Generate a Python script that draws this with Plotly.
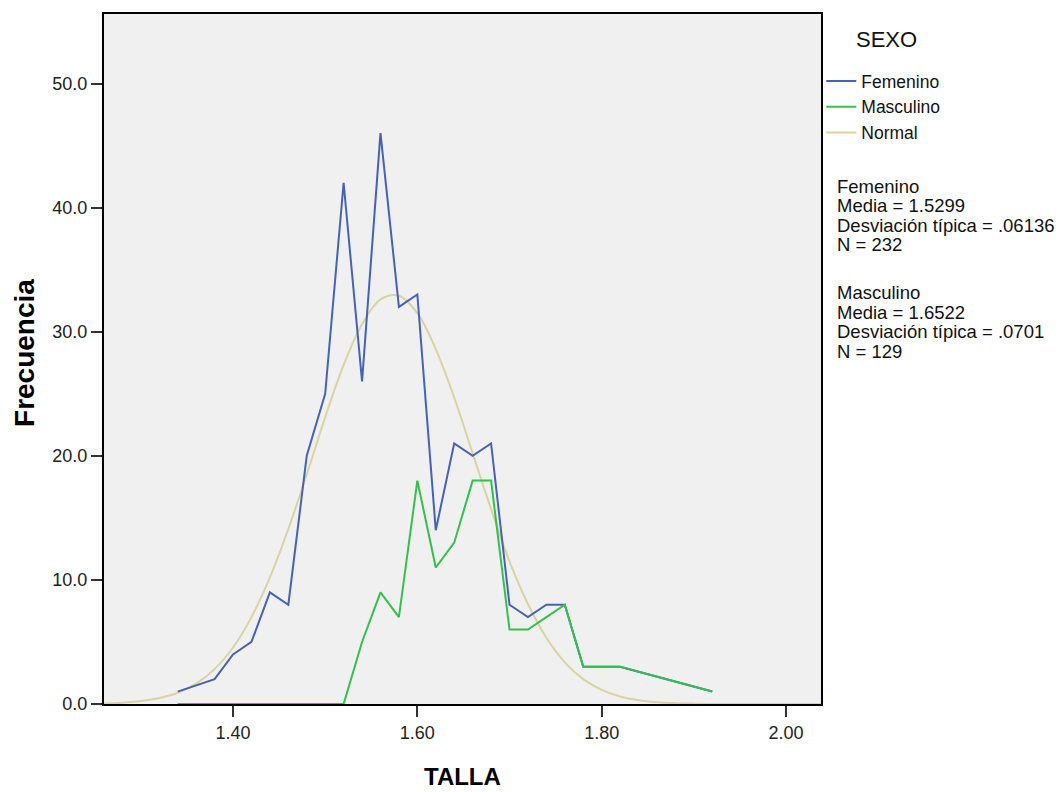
import plotly.graph_objects as go

# ---- data ----
fem_x = [1.34, 1.38, 1.40, 1.42, 1.44, 1.46, 1.48, 1.50, 1.52, 1.54, 1.56, 1.58, 1.60,
         1.62, 1.64, 1.66, 1.68, 1.70, 1.72, 1.74, 1.76, 1.78, 1.82, 1.92]
fem_y = [1, 2, 4, 5, 9, 8, 20, 25, 42, 26, 46, 32, 33,
         14, 21, 20, 21, 8, 7, 8, 8, 3, 3, 1]

mas_x = [1.34, 1.52, 1.54, 1.56, 1.58, 1.60, 1.62, 1.64, 1.66, 1.68, 1.70, 1.72, 1.74,
         1.76, 1.78, 1.82, 1.92]
mas_y = [0, 0, 5, 9, 7, 18, 11, 13, 18, 18, 6, 6, 7,
         8, 3, 3, 1]

norm_x = [1.26, 1.28, 1.30, 1.32, 1.34, 1.36, 1.38, 1.40, 1.42, 1.44, 1.46, 1.48, 1.50,
          1.52, 1.54, 1.56, 1.58, 1.60, 1.62, 1.64, 1.66, 1.68, 1.70, 1.72, 1.74, 1.76,
          1.78, 1.80, 1.82, 1.84, 1.86, 1.88, 1.90, 1.92, 1.96, 2.00, 2.04]
norm_y = [0.05, 0.11, 0.24, 0.48, 0.91, 1.64, 2.81, 4.55, 7.0, 10.2, 14.1, 18.5, 23.1,
          27.3, 30.6, 32.6, 32.9, 31.5, 28.6, 24.7, 20.2, 15.7, 11.5, 8.06, 5.34, 3.36,
          2.0, 1.14, 0.61, 0.31, 0.15, 0.07, 0.03, 0.01, 0.0, 0.0, 0.0]

x_ticks = [1.40, 1.60, 1.80, 2.00]
y_ticks = [0, 10, 20, 30, 40, 50]

stats_fem = ["Femenino", "Media = 1.5299", "Desviación típica = .06136", "N = 232"]
stats_mas = ["Masculino", "Media = 1.6522", "Desviación típica = .0701", "N = 129"]

# ---- layout constants ----
W, H = 1062, 792
L, R, T, B = 104, 820.7, 14, 704
FONT = "Liberation Sans, Arial, sans-serif"

C_FEM = "#4462b8"
C_MAS = "#34c04c"
C_NOR = "#d9d3a0"

fig = go.Figure()
fig.add_trace(go.Scatter(x=norm_x, y=norm_y, mode="lines", name="Normal",
                         line=dict(color=C_NOR, width=2, shape="spline"),
                         legendrank=3, hoverinfo="skip"))
fig.add_trace(go.Scatter(x=fem_x, y=fem_y, mode="lines", name="Femenino",
                         line=dict(color=C_FEM, width=2), legendrank=1))
fig.add_trace(go.Scatter(x=mas_x, y=mas_y, mode="lines", name="Masculino",
                         line=dict(color=C_MAS, width=2), legendrank=2))

pw = R - L
ph = B - T


def px_x(p):
    return (p - L) / pw


def px_y(p):
    return (B - p) / ph


ann = []
for txt, yy in zip(stats_fem, [186, 205.5, 225, 244.5]):
    ann.append(dict(text=txt, x=px_x(835), y=px_y(yy), xref="paper", yref="paper",
                    xanchor="left", yanchor="middle", showarrow=False,
                    font=dict(family=FONT, size=18.5, color="#111")))
for txt, yy in zip(stats_mas, [292.5, 312, 331.5, 351]):
    ann.append(dict(text=txt, x=px_x(835), y=px_y(yy), xref="paper", yref="paper",
                    xanchor="left", yanchor="middle", showarrow=False,
                    font=dict(family=FONT, size=18.5, color="#111")))
ann.append(dict(text="<b>TALLA</b>", x=0.5, y=px_y(776), xref="paper", yref="paper",
                xanchor="center", yanchor="middle", showarrow=False,
                font=dict(family=FONT, size=24, color="#000")))
ann.append(dict(text="<b>Frecuencia</b>", x=px_x(24), y=px_y(353), xref="paper", yref="paper",
                xanchor="center", yanchor="middle", showarrow=False, textangle=-90,
                font=dict(family=FONT, size=28, color="#000")))
ann.append(dict(text="SEXO", x=px_x(886), y=px_y(40), xref="paper", yref="paper",
                xanchor="center", yanchor="middle", showarrow=False,
                font=dict(family=FONT, size=22, color="#111")))

fig.update_layout(
    width=W, height=H,
    margin=dict(l=L, r=W - R, t=T, b=H - B, pad=0),
    paper_bgcolor="white",
    plot_bgcolor="#f0f0f0",
    font=dict(family=FONT, color="#222"),
    showlegend=True,
    legend=dict(x=px_x(821), y=px_y(63), xanchor="left", yanchor="top",
                bgcolor="rgba(0,0,0,0)", font=dict(family=FONT, size=17.5, color="#111"),
                itemwidth=30, tracegroupgap=0),
    annotations=ann,
    xaxis=dict(range=[1.26, 2.038], tickvals=x_ticks, tickformat=".2f",
               showgrid=False, zeroline=False, showline=True, linecolor="#000",
               linewidth=2, mirror=True, ticks="outside", ticklen=11, tickwidth=2,
               tickcolor="#333", tickfont=dict(family=FONT, size=18, color="#222")),
    yaxis=dict(range=[0, 55.6], tickvals=y_ticks, tickformat=".1f",
               showgrid=False, zeroline=False, showline=True, linecolor="#000",
               linewidth=2, mirror=True, ticks="outside", ticklen=11, tickwidth=2,
               tickcolor="#333", tickfont=dict(family=FONT, size=18, color="#222")),
)

fig.write_html("out.html")
